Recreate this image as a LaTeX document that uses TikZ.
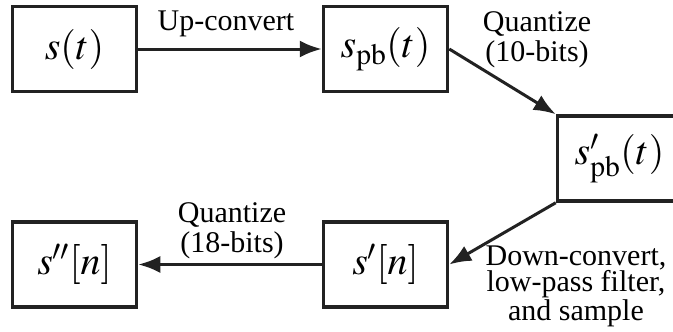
\documentclass[tikz,border=0pt]{standalone}
\usepackage{mathptmx}
\usepackage{fontspec}
\setmainfont{Liberation Serif}
\usetikzlibrary{arrows.meta}
\definecolor{lineclr}{RGB}{34,34,34}

\begin{document}
\begin{tikzpicture}[x=1pt,y=-1pt,>={Latex[length=22pt,width=17pt]},
  blk/.style={draw=lineclr,line width=3.5pt,minimum width=124pt,minimum height=85pt,
    inner sep=0pt,font=\fontsize{40}{44}\selectfont},
  lbl/.style={align=center,inner sep=0pt,font=\fontsize{30}{30}\selectfont},
  conn/.style={->,line width=3pt,draw=lineclr}]
\useasboundingbox (0,0) rectangle (673,332);
\clip (0,0) rectangle (673,332);
% blocks
\node[blk] (sig)   at (74.5,49)    {$s(t)$};
\node[blk] (pb)    at (385.5,49)   {$s_{\mathrm{pb}}(t)$};
\node[blk] (pbq)   at (619.5,158.5) {$s'_{\mathrm{pb}}(t)$};
\node[blk] (samp)  at (385.5,264.5) {$s'[n]$};
\node[blk] (samq)  at (74.5,264.5)  {$s''[n]$};
% labels
\node[lbl] (upc)  at (226,24)  {Up-convert};
\node[lbl] (q10)  at (537,40)  {Quantize\\(10-bits)};
\node[lbl,font=\fontsize{30}{25.5}\selectfont] (dwn) at (576,286) {Down-convert,\\low-pass filter,\\and sample};
\node[lbl] (q18)  at (232,231) {Quantize\\(18-bits)};
% connectors
\draw[conn] (sig.east) -- (pb.west);
\draw[conn] (pb.east) -- (pbq.north west);
\draw[conn] (pbq.south west) -- (samp.east);
\draw[conn] (samp.west) -- (samq.east);
\end{tikzpicture}
\end{document}
